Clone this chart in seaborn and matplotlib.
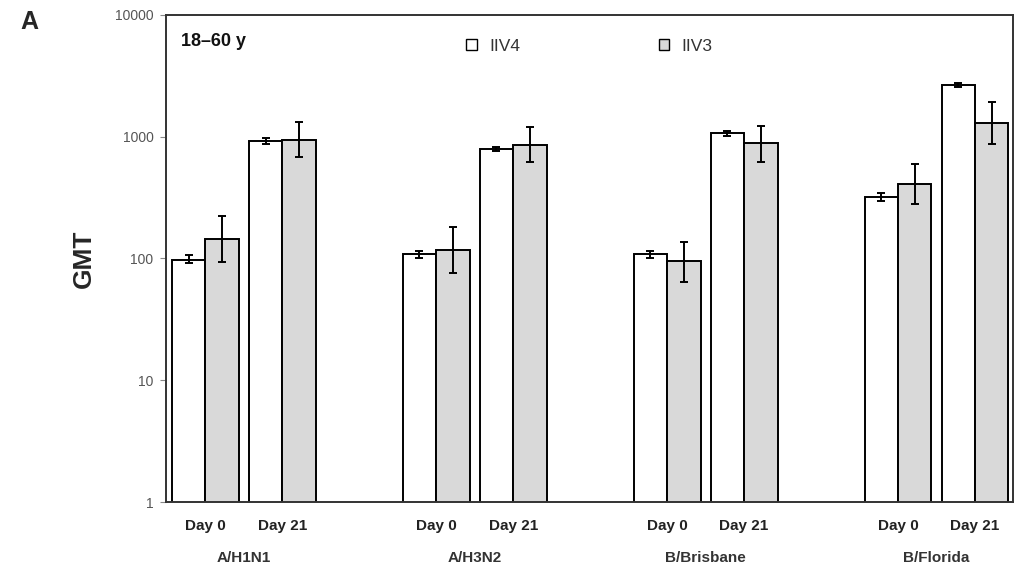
import numpy as np
import pandas as pd
import seaborn as sns
import matplotlib.pyplot as plt
from matplotlib.ticker import FixedLocator, NullLocator
from matplotlib.transforms import blended_transform_factory

# Datos (GMT, escala log)
strains = ["A/H1N1", "A/H3N2", "B/Brisbane", "B/Florida"]
days = ["Day 0", "Day 21"]
vaccines = ["IIV4", "IIV3"]

iiv4_gmt = [98, 913, 108, 789, 108, 1077, 320, 2655]
iiv4_lo = [91, 870, 100, 760, 101, 1020, 298, 2560]
iiv4_hi = [106, 975, 116, 825, 116, 1120, 345, 2760]

iiv3_gmt = [145, 945, 117, 857, 95, 880, 411, 1283]
iiv3_lo = [94, 682, 76, 614, 64, 621, 281, 867]
iiv3_hi = [224, 1324, 182, 1191, 136, 1231, 594, 1910]

yticks = [1, 10, 100, 1000, 10000]

# Tabla larga para seaborn
rows = []
for v, gmt, lo, hi in [("IIV4", iiv4_gmt, iiv4_lo, iiv4_hi),
                       ("IIV3", iiv3_gmt, iiv3_lo, iiv3_hi)]:
    k = 0
    for si, s in enumerate(strains):
        for di, d in enumerate(days):
            rows.append({"strain": s, "day": d, "vaccine": v,
                         "pos": si * 3 + di, "gmt": gmt[k],
                         "lo": lo[k], "hi": hi[k]})
            k += 1
df = pd.DataFrame(rows)

sns.set_style("white")
plt.rcParams["font.family"] = ["Liberation Sans", "DejaVu Sans"]

fig = plt.figure(figsize=(10.25, 5.7), dpi=100)
ax = fig.add_axes([0.162, 0.119, 0.826, 0.855])

sns.barplot(data=df, x="pos", y="gmt", hue="vaccine", hue_order=vaccines,
            native_scale=True, width=0.87, errorbar=None,
            palette={"IIV4": "white", "IIV3": "#d9d9d9"},
            edgecolor="black", linewidth=1.4, ax=ax)

ax.set_yscale("log")
ax.set_ylim(1, 10000)
ax.set_xlim(-0.51, 10.49)

# Barras de error (IC asimétrico)
for cont, v in zip(ax.containers, vaccines):
    sub = df[df["vaccine"] == v].sort_values("pos")
    bars = sorted(cont.patches, key=lambda p: p.get_x())
    xs = [b.get_x() + b.get_width() / 2 for b in bars]
    g = sub["gmt"].values
    ax.errorbar(xs, g, yerr=[g - sub["lo"].values, sub["hi"].values - g],
                fmt="none", ecolor="black", elinewidth=1.4, capsize=3,
                capthick=1.4, zorder=5)

# Ejes
ax.yaxis.set_major_locator(FixedLocator(yticks))
ax.yaxis.set_minor_locator(NullLocator())
ax.set_yticklabels([str(t) for t in yticks])
ax.tick_params(axis="y", left=True, length=4, width=0.8, color="#888888",
               labelsize=10, labelcolor="#555555", pad=5)

day_pos = sorted(df["pos"].unique())
ax.set_xticks(day_pos)
ax.set_xticklabels(days * len(strains), fontsize=11, fontweight="bold",
                   color="#222222")
ax.tick_params(axis="x", length=0, pad=12)
ax.set_xlabel("")

trans = blended_transform_factory(ax.transData, ax.transAxes)
for s in strains:
    cx = df.loc[df["strain"] == s, "pos"].mean()
    ax.text(cx, -0.115, s, transform=trans, ha="center", va="center",
            fontsize=11, fontweight="bold", color="#333333")

ax.set_ylabel("GMT", fontsize=19, fontweight="bold", labelpad=14)

for sp in ax.spines.values():
    sp.set_visible(True)
    sp.set_color("#333333")
    sp.set_linewidth(1.4)

ax.text(0.018, 0.945, "18\u201360 y", transform=ax.transAxes, fontsize=13,
        fontweight="bold", color="#111111", va="center")
fig.text(0.02, 0.962, "A", fontsize=18, fontweight="bold", va="center")

leg = ax.legend(ncol=2, frameon=False, loc="center", bbox_to_anchor=(0.5, 0.935),
                handlelength=0.6, handleheight=0.6, columnspacing=8.0,
                handletextpad=0.7, fontsize=12.5)
for h in leg.legend_handles:
    h.set_linewidth(1.0)
for t in leg.get_texts():
    t.set_color("#333333")

fig.savefig("out.png", dpi=100)
